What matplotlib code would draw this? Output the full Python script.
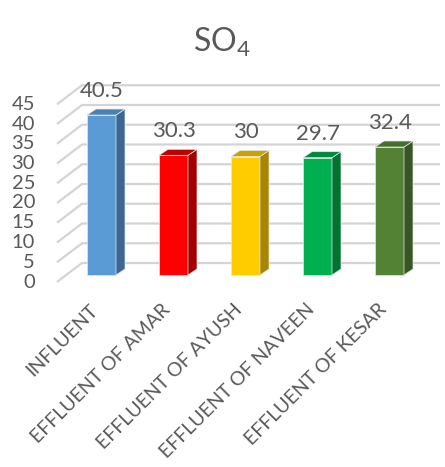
import numpy as np
import matplotlib.pyplot as plt
from matplotlib.patches import Polygon

categories = ['INFLUENT', 'EFFLUENT OF AMAR', 'EFFLUENT OF AYUSH',
              'EFFLUENT OF NAVEEN', 'EFFLUENT OF KESAR']
values = [40.5, 30.3, 30.0, 29.7, 32.4]
value_labels = ['40.5', '30.3', '30', '29.7', '32.4']
front_colors = ['#5b9bd5', '#ff0000', '#ffcc00', '#00b050', '#548235']
side_colors = ['#3c6792', '#a50000', '#a88600', '#00732f', '#375623']
top_colors = ['#4a80b4', '#c00000', '#c9a100', '#008a3e', '#466e2c']
yticks = np.arange(0, 50, 5)

plt.rcParams['font.family'] = ['Lato', 'DejaVu Sans']
TEXT = '#595959'

W, H = 445, 467
fig = plt.figure(figsize=(W / 100, H / 100), dpi=100)
ax = fig.add_axes([0, 0, 1, 1])
ax.axis('off')

# one category step = 72 px, one value unit = 3.95 px
sx = 1 / 72
sy = 1 / 3.95
ax.set_xlim(-101.5 * sx, (W - 101.5) * sx)
ax.set_ylim(-(H - 275) * sy, 275 * sy)

# depth offsets (data units)
bar_dx, bar_dy = 9 * sx, 6 * sy
front_dx, front_dy = -9 * sx, -7 * sy
back_dx, back_dy = 16 * sx, 12 * sy
left_x = -0.618 - front_dx  # left edge of the floor in the bar plane
right_x = (440 - 101.5) * sx
half_w = 14.5 * sx

# walls: diagonal on the left side, horizontal along the back
for v in yticks:
    x0, y0 = left_x + front_dx, v + front_dy
    x1, y1 = left_x + back_dx, v + back_dy
    ax.plot([x0, x1, right_x], [y0, y1, y1], color='#d4d4d4', lw=1.6,
            solid_capstyle='butt', zorder=1)
    ax.text(x0 - 22 * sx, y0, str(v), ha='right', va='center',
            fontsize=14.5, color=TEXT)

# 3d-looking bars
for i, v in enumerate(values):
    xl, xr = i - half_w, i + half_w
    front = Polygon([(xl, 0), (xr, 0), (xr, v), (xl, v)],
                    facecolor=front_colors[i], edgecolor='#e6e6e6', lw=0.5, zorder=3)
    side = Polygon([(xr, 0), (xr + bar_dx, bar_dy), (xr + bar_dx, v + bar_dy), (xr, v)],
                   facecolor=side_colors[i], edgecolor='#e6e6e6', lw=0.5, zorder=3)
    top = Polygon([(xl, v), (xr, v), (xr + bar_dx, v + bar_dy), (xl + bar_dx, v + bar_dy)],
                  facecolor=top_colors[i], edgecolor='#e6e6e6', lw=0.5, zorder=3)
    for p in (front, side, top):
        ax.add_patch(p)
    ax.text(i, v + 24 * sy, value_labels[i], ha='center', va='center',
            fontsize=16, color=TEXT, zorder=4)
    ax.text(i - 6 * sx, -32 * sy, categories[i], ha='right', va='center',
            rotation=45, rotation_mode='anchor', fontsize=14, color=TEXT)

ax.text((222 - 101.5) * sx, (275 - 42) * sy, r'SO$_\mathregular{4}$',
        ha='center', va='center', fontsize=23, color=TEXT)

fig.savefig('out.png', dpi=100)
